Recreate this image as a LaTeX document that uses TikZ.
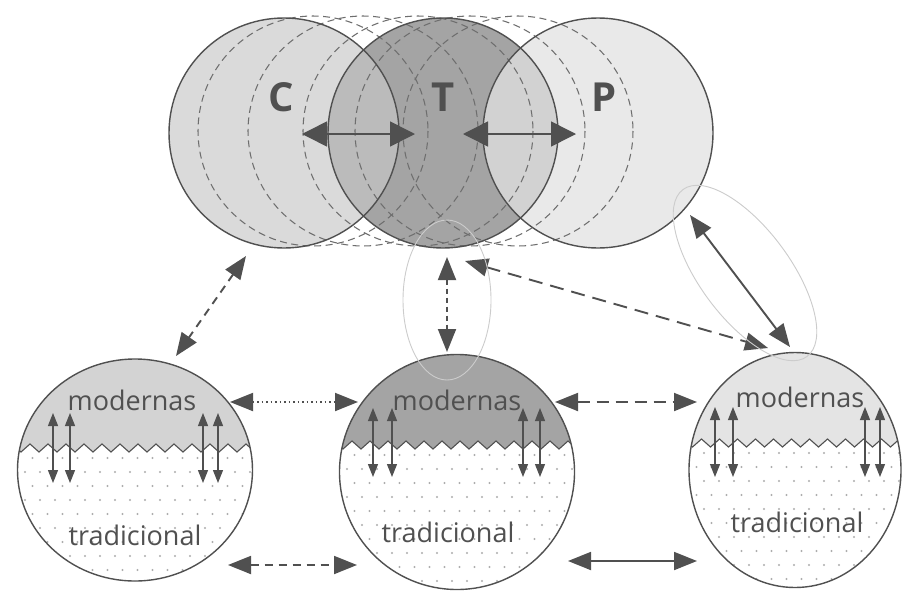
\documentclass[tikz,border=0pt]{standalone}
\usepackage{fontspec}
\setmainfont{Open Sans}
\usetikzlibrary{arrows.meta,calc,decorations.pathmorphing,shapes.geometric}
\definecolor{ink}{HTML}{505050}
\definecolor{dashc}{HTML}{6E6E6E}
\definecolor{cfill}{HTML}{DADADA}
\definecolor{tfill}{HTML}{A4A4A4}
\definecolor{pfill}{HTML}{E9E9E9}
\definecolor{ctfill}{HTML}{BBBBBB}
\definecolor{tpfill}{HTML}{D2D2D2}
\definecolor{lmod}{HTML}{D3D3D3}
\definecolor{mmod}{HTML}{A4A4A4}
\definecolor{rmod}{HTML}{E4E4E4}
\definecolor{dotc}{HTML}{ADADAD}
\definecolor{hlc}{HTML}{CCCCCC}
\newcommand{\ballfill}[6]{%
  \begin{scope}
    \clip (#1,#2) ellipse ({#3} and {#4});
    \fill[#6] (#1-#3-2,#2-#4-2) rectangle (#1+#3+2,#2+#4+2);
    \fill[white,zz] (#1-#3-10,#5) decorate {-- (#1+#3+10,#5)} -- (#1+#3+10,#2+#4+5) -- (#1-#3-10,#2+#4+5) -- cycle;
    \foreach \r in {0,...,9}{\foreach \c in {0,...,16}{%
      \fill[dotc] ({#1-#3+\c*15+mod(\r,2)*7.5},{#5+10+\r*14}) circle (1.05);}}
    \draw[ink,line width=1.1pt,zz] (#1-#3-10,#5) decorate {-- (#1+#3+10,#5)};
  \end{scope}}
\begin{document}
\begin{tikzpicture}[x=1pt,y=-1pt,
  zz/.style={decoration={zigzag,segment length=18pt,amplitude=4pt}},
  outline/.style={draw=ink,line width=1.4pt},
  bigc/.style={circle,outline,minimum size=230pt,inner sep=0pt,outer sep=0pt},
  ball/.style={ellipse,outline,inner sep=0pt,outer sep=0pt},
  lbl/.style={text=ink,font=\fontsize{40}{40}\selectfont\bfseries},
  word/.style={text=ink,font=\fontsize{27}{27}\selectfont,anchor=base,inner sep=0pt},
  ghost/.style={draw=dashc,line width=1.05pt,dash pattern=on 7pt off 4.5pt},
  con/.style={draw=ink,line width=1.9pt,{Triangle[length=23pt,width=18pt]}-{Triangle[length=23pt,width=18pt]}},
  topcon/.style={draw=ink,line width=1.6pt,{Triangle[length=25pt,width=25pt]}-{Triangle[length=25pt,width=25pt]}},
  minor/.style={draw=ink,line width=1.1pt,{Triangle[length=13pt,width=10pt]}-{Triangle[length=13pt,width=10pt]}},
  hl/.style={draw=hlc,line width=0.9pt}]
\useasboundingbox (0,0) rectangle (904,592);
\fill[white] (0,0) rectangle (904,592);

% top circles fills
\fill[cfill] (284,133) circle (115);
\fill[pfill] (598,133) circle (115);
\fill[tfill] (443,133) circle (115);
\begin{scope}\clip (284,133) circle (115); \fill[ctfill] (443,133) circle (115); \end{scope}
\begin{scope}\clip (598,133) circle (115); \fill[tpfill] (443,133) circle (115); \end{scope}
\foreach \cx in {313,363,418,470,518} \draw[ghost] (\cx,131) circle (115);

% bottom circle fills
\ballfill{135}{470}{117.5}{111}{448}{lmod}
\ballfill{457}{472}{117.5}{117.5}{445}{mmod}
\ballfill{795}{470}{106}{117.5}{443}{rmod}

% nodes
\node[bigc] (C) at (284,133) {};
\node[bigc] (T) at (443,133) {};
\node[bigc] (P) at (598,133) {};
\node[ball,minimum width=235pt,minimum height=222pt] (L) at (135,470) {};
\node[ball,minimum width=235pt,minimum height=235pt] (M) at (457,472) {};
\node[ball,minimum width=212pt,minimum height=235pt] (R) at (795,470) {};

\node[lbl] (Cl) at (281,97) {C};
\node[lbl] (Tl) at (443,97) {T};
\node[lbl] (Pl) at (604,97) {P};

\node[word] (Lm) at (132,410) {modernas};
\node[word] (Lt) at (135,545) {tradicional};
\node[word] (Mm) at (457,410) {modernas};
\node[word] (Mt) at (448,542) {tradicional};
\node[word] (Rm) at (800,407) {modernas};
\node[word] (Rt) at (797,532) {tradicional};

% small arrows inside bottom circles
\foreach \x in {53,70,203,218} \draw[minor] (\x,413) -- (\x,483);
\foreach \x in {373,392,523,540} \draw[minor] (\x,408) -- (\x,477);
\foreach \x in {715,733,865,880} \draw[minor] (\x,407) -- (\x,477);

% top arrows
\draw[topcon] ($(C.center)+(18,1)$) -- ($(T.center)+(-28,1)$);
\draw[topcon] ($(T.center)+(20,1)$) -- ($(P.center)+(-22,1)$);

% connectors
\draw[con,dash pattern=on 8pt off 6pt] ($(C.center)+(-38,123)$) -- ($(L.center)+(41,-114)$);
\draw[con,dash pattern=on 1.5pt off 3pt] ($(L.center)+(95,-68)$) -- ($(M.center)+(-99,-70)$);
\draw[con,dash pattern=on 12pt off 7pt] ($(M.center)+(98,-70)$) -- ($(R.center)+(-98,-68)$);
\draw[con,dash pattern=on 8pt off 6pt] ($(L.center)+(93,95)$) -- ($(M.center)+(-100,93)$);
\draw[con] ($(M.center)+(111,89)$) -- ($(R.center)+(-98,91)$);
\draw[con,dash pattern=on 5pt off 4pt] ($(T.center)+(4,124)$) -- ($(M.center)+(-10,-120)$);
\draw[con,dash pattern=on 14pt off 8pt] ($(T.center)+(22,128)$) -- ($(R.center)+(-27,-122)$);
\draw[con] ($(P.center)+(92,82)$) -- ($(R.center)+(-5,-123)$);

% highlight ellipses
\draw[hl] (447,300) ellipse (44 and 80);
\draw[hl,rotate around={-53.4:(745,273)}] (745,273) ellipse (104 and 45);
\end{tikzpicture}
\end{document}
